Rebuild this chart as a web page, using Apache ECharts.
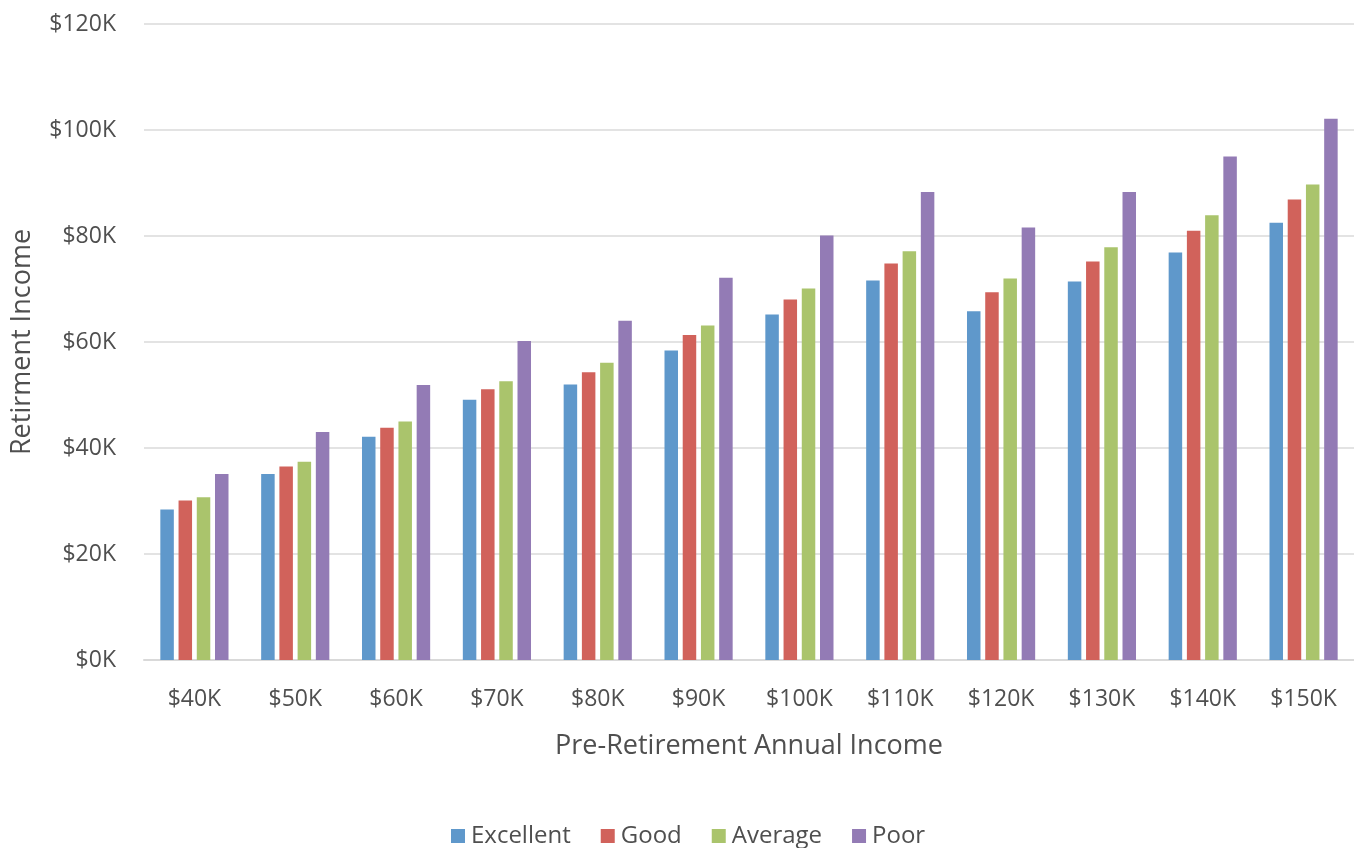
<!DOCTYPE html>
<html>
<head>
<meta charset="utf-8">
<script src="https://cdn.jsdelivr.net/npm/echarts@6/dist/echarts.min.js"></script>
<style>
  html, body { margin: 0; padding: 0; background: #ffffff; }
  #chart { width: 1354px; height: 848px; }
</style>
</head>
<body>
<div id="chart"></div>
<script>
// Pre-retirement income brackets (x axis)
const categories = ['$40K', '$50K', '$60K', '$70K', '$80K', '$90K', '$100K', '$110K', '$120K', '$130K', '$140K', '$150K'];

// Retirement income (in $K) by health outlook
const excellent = [28.4, 35.1, 42.1, 49.1, 52.0, 58.4, 65.2, 71.6, 65.8, 71.4, 76.9, 82.5];
const good      = [30.1, 36.5, 43.8, 51.1, 54.3, 61.3, 68.0, 74.8, 69.4, 75.2, 81.0, 86.9];
const average   = [30.7, 37.4, 45.0, 52.6, 56.1, 63.1, 70.1, 77.1, 72.0, 77.9, 83.9, 89.7];
const poor      = [35.1, 43.0, 51.9, 60.2, 64.0, 72.1, 80.1, 88.3, 81.6, 88.3, 95.0, 102.1];

const seriesNames = ['Excellent', 'Good', 'Average', 'Poor'];
const seriesData = [excellent, good, average, poor];
const colors = ['#5f98cb', '#d1625b', '#aac46c', '#937bb5'];

const textColor = '#4f4f4f';
const fontFamily = '"Open Sans", Lato, sans-serif';

const chart = echarts.init(document.getElementById('chart'), null, { renderer: 'canvas' });

chart.setOption({
  animation: false,
  backgroundColor: '#ffffff',
  color: colors,
  textStyle: { fontFamily: fontFamily, color: textColor },
  grid: { left: 144, width: 1217, top: 24, bottom: 188, containLabel: false },
  legend: {
    data: seriesNames,
    top: 819,
    left: 446,
    icon: 'rect',
    itemWidth: 14,
    itemHeight: 14,
    itemGap: 30,
    textStyle: { fontSize: 24, color: textColor, fontFamily: fontFamily, padding: [0, 0, 0, 1] }
  },
  xAxis: {
    type: 'category',
    data: categories,
    name: 'Pre-Retirement Annual Income',
    nameLocation: 'middle',
    nameGap: 73,
    nameTextStyle: { fontSize: 27, color: textColor, fontFamily: fontFamily },
    axisLine: { show: true, lineStyle: { color: '#d9d9d9', width: 2 } },
    axisTick: { show: false },
    axisLabel: { fontSize: 23, color: textColor, margin: 28, fontFamily: fontFamily }
  },
  yAxis: {
    type: 'value',
    min: 0,
    max: 120,
    interval: 20,
    name: 'Retirment Income',
    nameLocation: 'middle',
    nameGap: 108,
    nameRotate: 90,
    nameTextStyle: { fontSize: 27, color: textColor, fontFamily: fontFamily, padding: [0, 0, 0, 0] },
    axisLine: { show: false },
    axisTick: { show: false },
    axisLabel: {
      fontSize: 23,
      color: textColor,
      margin: 28,
      fontFamily: fontFamily,
      formatter: v => '$' + v + 'K'
    },
    splitLine: { lineStyle: { color: '#e3e3e3', width: 2 } }
  },
  series: seriesNames.map((name, i) => ({
    name: name,
    type: 'bar',
    data: seriesData[i],
    barWidth: 13.5,
    barGap: '35%',
    itemStyle: { color: colors[i] }
  }))
});
</script>
</body>
</html>
